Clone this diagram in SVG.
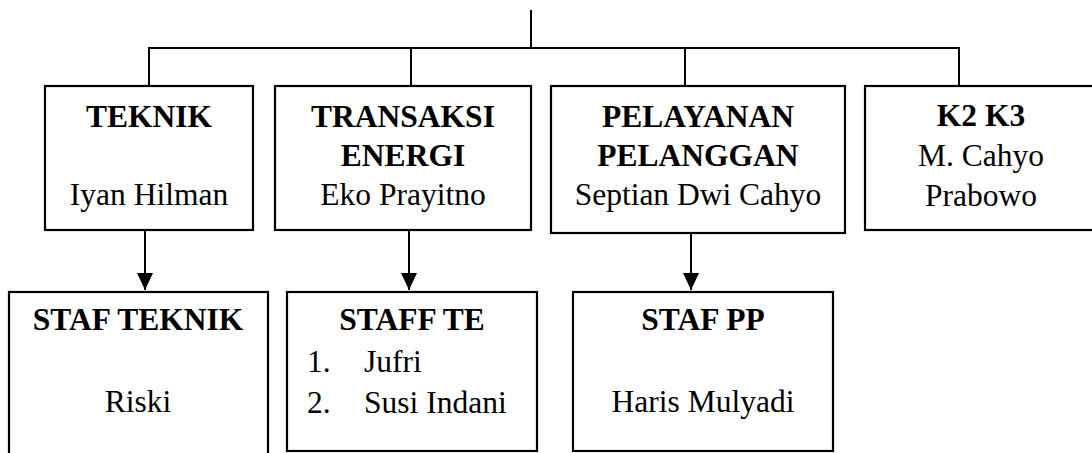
<svg xmlns="http://www.w3.org/2000/svg" width="1092" height="453" viewBox="0 0 1092 453">
<style>
.box{fill:#fff;stroke:#000;stroke-width:2.2}
.ln{fill:none;stroke:#000;stroke-width:2}
text{font-family:'Liberation Serif','Times New Roman',Times,serif;font-size:31.5px;fill:#000}
.b{font-weight:bold;text-anchor:middle}
.r{text-anchor:middle}
</style>
<defs>
<marker id="ah" markerWidth="17" markerHeight="16" refX="17" refY="8" orient="auto" markerUnits="userSpaceOnUse" viewBox="0 0 17 16">
<path d="M0,0 L17,8 L0,16 Z" fill="#000"/>
</marker>
</defs>
<g id="connectors">
<path class="ln" d="M531,10 V48"/>
<path class="ln" d="M149,48 H959"/>
<path class="ln" d="M149,47 V86 M411,47 V86 M685,47 V86 M959,47 V86"/>
<path class="ln" d="M145,230 V290" marker-end="url(#ah)"/>
<path class="ln" d="M409,230 V290" marker-end="url(#ah)"/>
<path class="ln" d="M691,233 V290" marker-end="url(#ah)"/>
</g>
<g id="teknik">
<rect class="box" x="45" y="86" width="208" height="144"/>
<text class="b" x="149" y="127">TEKNIK</text>
<text class="r" x="149" y="205">Iyan Hilman</text>
</g>
<g id="transaksi">
<rect class="box" x="275" y="86" width="256" height="144"/>
<text class="b" x="403" y="127">TRANSAKSI</text>
<text class="b" x="403" y="166">ENERGI</text>
<text class="r" x="403" y="205">Eko Prayitno</text>
</g>
<g id="pelayanan">
<rect class="box" x="551" y="86" width="294" height="147"/>
<text class="b" x="698" y="127">PELAYANAN</text>
<text class="b" x="698" y="166">PELANGGAN</text>
<text class="r" x="698" y="205">Septian Dwi Cahyo</text>
</g>
<g id="k2k3">
<rect class="box" x="865" y="86" width="240" height="144"/>
<text class="b" x="981" y="126">K2 K3</text>
<text class="r" x="981" y="166">M. Cahyo</text>
<text class="r" x="981" y="206">Prabowo</text>
</g>
<g id="staf-teknik">
<rect class="box" x="9" y="292" width="259" height="180"/>
<text class="b" x="138" y="330">STAF TEKNIK</text>
<text class="r" x="138" y="412">Riski</text>
</g>
<g id="staff-te">
<rect class="box" x="287" y="292" width="250" height="159"/>
<text class="b" x="412" y="330">STAFF TE</text>
<text x="307" y="372">1.</text>
<text x="364" y="372">Jufri</text>
<text x="307" y="413">2.</text>
<text x="364" y="413">Susi Indani</text>
</g>
<g id="staf-pp">
<rect class="box" x="573" y="292" width="260" height="159"/>
<text class="b" x="703" y="330">STAF PP</text>
<text class="r" x="703" y="412">Haris Mulyadi</text>
</g>
</svg>
